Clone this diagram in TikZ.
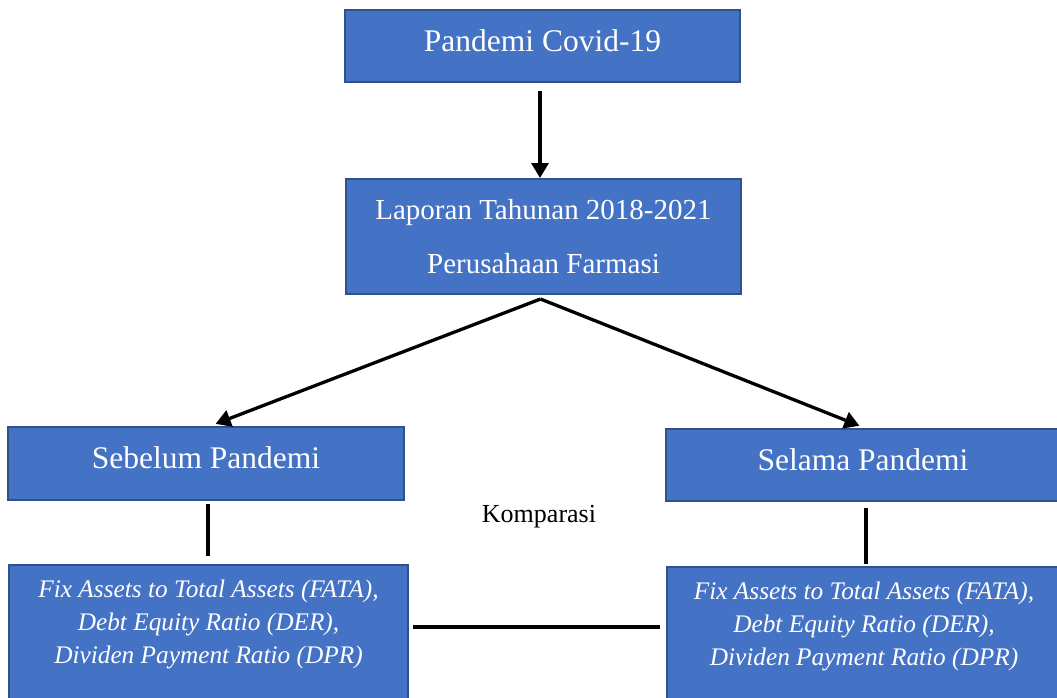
\documentclass[tikz,border=0pt]{standalone}
\usepackage{fontspec}
\setmainfont{Liberation Serif}
\usetikzlibrary{arrows.meta,calc}
\definecolor{boxfill}{HTML}{4472C4}
\definecolor{boxline}{HTML}{2F528F}
\tikzset{
  bluebox/.style={draw=boxline, line width=2pt, fill=boxfill, text=white, inner sep=0pt, align=center},
  onetext/.style={font=\fontsize{31.5}{36}\selectfont, text height=22pt, text depth=12pt},
  conn/.style={line width=3.3pt, draw=black},
  arr/.style={conn, -{Triangle[length=15pt,width=17pt]}},
  italtext/.style={text=white, inner sep=0pt, align=center, font=\fontsize{25.3}{33}\selectfont\itshape}
}
\begin{document}
\begin{tikzpicture}[x=1pt,y=-1pt]
\useasboundingbox (0,0) rectangle (1057,697);
\clip (0,0) rectangle (1057,697);
\fill[white] (0,0) rectangle (1057,697);

\node[bluebox, onetext, minimum width=395pt, minimum height=72pt] (covid) at (542.5,46) {Pandemi Covid-19};
\node[bluebox, minimum width=395pt, minimum height=115pt, font=\fontsize{29}{54}\selectfont] (lap) at (543.5,236.5) {Laporan Tahunan 2018-2021\\Perusahaan Farmasi};
\node[bluebox, onetext, minimum width=396pt, minimum height=73pt] (sb) at (206,463.5) {Sebelum Pandemi};
\node[bluebox, onetext, minimum width=394pt, minimum height=72pt] (sl) at (863,465) {Selama Pandemi};

\node[bluebox, minimum width=399pt, minimum height=146pt, anchor=north west] (fl) at (8,564) {};
\node[bluebox, minimum width=394pt, minimum height=144pt, anchor=north west] (fr) at (666,566) {};
\node[italtext, anchor=north] (tl) at ($(fl.north)+(0,16)$) {Fix Assets to Total Assets (FATA),\\Debt Equity Ratio (DER),\\Dividen Payment Ratio (DPR)};
\node[italtext, anchor=north] (tr) at ($(fr.north)+(0,16)$) {Fix Assets to Total Assets (FATA),\\Debt Equity Ratio (DER),\\Dividen Payment Ratio (DPR)};

\node[font=\fontsize{26}{30}\selectfont, inner sep=0pt] (komp) at (539,517) {Komparasi};

\coordinate (split) at ($(lap.south)+(-3,4)$);
\coordinate (hl) at (0,627);
\coordinate (vt) at (540,0);
\draw[arr, shorten <=8pt] (covid.south -| vt) -- (lap.north -| vt);
\draw[arr, shorten >=6pt] (split) -- ($(sb.north)+(4,0)$);
\draw[arr, shorten >=6pt] (split) -- ($(sl.north)+(2,0)$);
\draw[conn] ($(sb.south)+(2,3)$) -- ($(fl.north -| sb.south)+(2,-8)$);
\draw[conn] ($(sl.south)+(3,6)$) -- ($(fr.north -| sl.south)+(3,-2)$);
\draw[conn] ($(fl.east |- hl)+(4,0)$) -- ($(fr.west |- hl)+(-6,0)$);
\end{tikzpicture}
\end{document}
